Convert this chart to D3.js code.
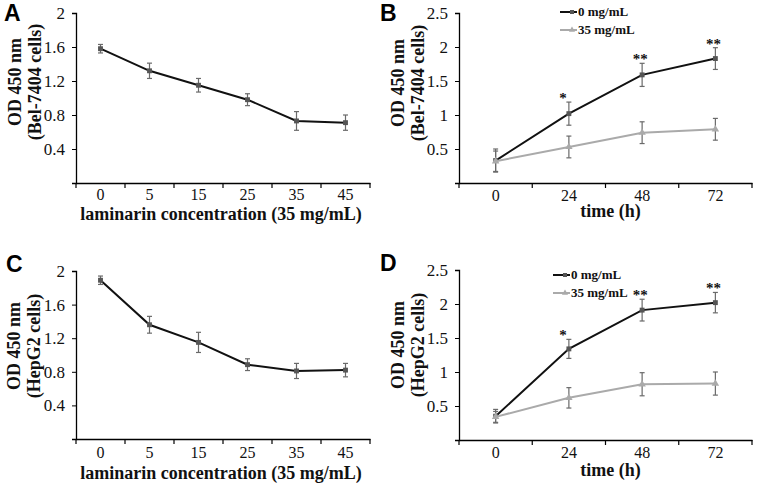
<!DOCTYPE html>
<html>
<head>
<meta charset="utf-8">
<script src="https://cdn.jsdelivr.net/npm/d3@7"></script>
<style>
  body { margin: 0; background: #fff; }
</style>
</head>
<body>
<div id="chart"></div>
<script>
// categories
var concCats = ["0", "5", "15", "25", "35", "45"];
var timeCats = ["0", "24", "48", "72"];

// A: Bel-7404, dose
var belConcMean = [1.58, 1.32, 1.15, 0.98, 0.73, 0.71];
var belConcErr = [0.05, 0.09, 0.08, 0.07, 0.11, 0.09];
// C: HepG2, dose
var hepConcMean = [1.89, 1.36, 1.15, 0.885, 0.81, 0.82];
var hepConcErr = [0.05, 0.10, 0.12, 0.07, 0.09, 0.08];

// B: Bel-7404, time
var belTimeCtrl = [0.33, 1.02, 1.59, 1.83];
var belTimeCtrlErr = [0.17, 0.17, 0.17, 0.16];
var belTimeLam = [0.32, 0.53, 0.74, 0.79];
var belTimeLamErr = [0.15, 0.16, 0.16, 0.16];
// D: HepG2, time
var hepTimeCtrl = [0.35, 1.34, 1.91, 2.02];
var hepTimeCtrlErr = [0.10, 0.14, 0.16, 0.15];
var hepTimeLam = [0.34, 0.62, 0.82, 0.83];
var hepTimeLamErr = [0.08, 0.15, 0.17, 0.17];

var stars = ["", "*", "**", "**"];
var legendNames = ["0 mg/mL", "35 mg/mL"];

var concTicks = [0, 0.4, 0.8, 1.2, 1.6, 2];
var timeTicks = [0, 0.5, 1, 1.5, 2, 2.5];

var serif = '"Liberation Serif", "Times New Roman", serif';
var sans = '"Liberation Sans", Arial, sans-serif';

var svg = d3.select("#chart")
    .append("svg")
    .attr("width", 760)
    .attr("height", 486);

svg.append("rect").attr("width", 760).attr("height", 486).attr("fill", "#fff");

function drawPanel(p) {
    var x = d3.scaleBand()
        .domain(p.cats)
        .range([p.left, p.right])
        .padding(0);

    var y = d3.scaleLinear()
        .domain([0, p.ticks[p.ticks.length - 1]])
        .range([p.bottom, p.top]);

    var g = svg.append("g");

    // y axis
    var yAxis = g.append("g")
        .attr("transform", "translate(" + p.left + ",0)")
        .call(d3.axisLeft(y).tickValues(p.ticks).tickSize(4).tickPadding(7)
            .tickFormat(function(d) { return d === 0 ? "" : d3.format("")(d); }))
        .attr("font-family", serif)
        .attr("font-size", 17);
    yAxis.select(".domain").attr("stroke", "#000").attr("stroke-width", 1.3);
    yAxis.selectAll("line").attr("stroke", "#000");
    yAxis.selectAll("text").attr("fill", "#111");

    // x axis (ticks between categories)
    var xAxis = g.append("g")
        .attr("transform", "translate(0," + p.bottom + ")")
        .call(d3.axisBottom(x).tickSize(0).tickPadding(p.xPad))
        .attr("font-family", serif)
        .attr("font-size", 16);
    xAxis.select(".domain").attr("stroke", "#000").attr("stroke-width", 1.3);
    xAxis.selectAll("text").attr("fill", "#111");

    var edges = p.cats.map(function(c) { return x(c); }).concat([x.range()[1]]);
    g.selectAll("xEdge")
        .data(edges)
        .enter()
        .append("line")
        .attr("x1", function(d) { return d; })
        .attr("x2", function(d) { return d; })
        .attr("y1", p.bottom)
        .attr("y2", p.bottom + 5)
        .attr("stroke", "#000")
        .attr("stroke-width", 1.2);

    var cx = function(i) { return x(p.cats[i]) + x.bandwidth() / 2; };

    var line = d3.line()
        .x(function(d, i) { return cx(i); })
        .y(function(d) { return y(d); });

    p.series.forEach(function(s) {
        // error bars
        var eb = g.append("g").attr("stroke", "#6a6a6a").attr("stroke-width", 1.2);
        s.mean.forEach(function(m, i) {
            var top = y(m + s.err[i]), bot = y(m - s.err[i]);
            eb.append("line").attr("x1", cx(i)).attr("x2", cx(i)).attr("y1", top).attr("y2", bot);
            eb.append("line").attr("x1", cx(i) - 2.5).attr("x2", cx(i) + 2.5).attr("y1", top).attr("y2", top);
            eb.append("line").attr("x1", cx(i) - 2.5).attr("x2", cx(i) + 2.5).attr("y1", bot).attr("y2", bot);
        });
    });

    p.series.forEach(function(s) {
        g.append("path")
            .datum(s.mean)
            .attr("fill", "none")
            .attr("stroke", s.color)
            .attr("stroke-width", 2)
            .attr("d", line);

        g.selectAll("pts")
            .data(s.mean)
            .enter()
            .append("path")
            .attr("transform", function(d, i) { return "translate(" + cx(i) + "," + y(d) + ")"; })
            .attr("d", d3.symbol().type(s.shape).size(24))
            .attr("fill", s.marker);
    });

    // significance stars
    if (p.stars) {
        var s0 = p.series[0];
        g.selectAll("stars")
            .data(p.stars)
            .enter()
            .append("text")
            .attr("x", function(d, i) { return cx(i) - (d.length === 1 ? 6 : 2); })
            .attr("y", function(d, i) { return y(s0.mean[i] + s0.err[i]) + 1; })
            .attr("text-anchor", "middle")
            .style("font-family", serif)
            .style("font-size", "15px")
            .style("font-weight", "bold")
            .attr("fill", "#111")
            .text(function(d) { return d; });
    }

    // legend
    if (p.legend) {
        p.series.forEach(function(s, i) {
            var ly = p.legend.y + i * 18;
            g.append("line")
                .attr("x1", p.legend.x).attr("x2", p.legend.x + 17)
                .attr("y1", ly - 4).attr("y2", ly - 4)
                .attr("stroke", s.color).attr("stroke-width", 2);
            g.append("path")
                .attr("transform", "translate(" + (p.legend.x + 12) + "," + (ly - 4) + ")")
                .attr("d", d3.symbol().type(s.shape).size(16))
                .attr("fill", s.marker);
            g.append("text")
                .attr("x", p.legend.x + 18)
                .attr("y", ly)
                .style("font-family", serif)
                .style("font-size", "13px")
                .style("font-weight", "bold")
                .attr("fill", "#111")
                .text(legendNames[i]);
        });
    }

    // axis titles
    g.append("text")
        .attr("x", (p.left + p.right) / 2 + p.xTitleDx)
        .attr("y", p.xTitleY)
        .attr("text-anchor", "middle")
        .style("font-family", serif)
        .style("font-size", "18px")
        .style("font-weight", "bold")
        .attr("fill", "#111")
        .text(p.xTitle);

    p.yTitle.forEach(function(t, i) {
        var bx = p.yTitleX[i];
        g.append("text")
            .attr("transform", "translate(" + bx + "," + p.yTitleCy + ") rotate(-90)")
            .attr("text-anchor", "middle")
            .style("font-family", serif)
            .style("font-size", "18px")
            .style("font-weight", "bold")
            .attr("fill", "#111")
            .text(t);
    });

    // panel letter
    g.append("text")
        .attr("x", p.letterX)
        .attr("y", p.letterY)
        .style("font-family", sans)
        .style("font-size", "23px")
        .style("font-weight", "bold")
        .attr("fill", "#000")
        .text(p.letter);
}

drawPanel({
    letter: "A", letterX: 4, letterY: 21,
    cats: concCats, ticks: concTicks,
    left: 76, right: 370, top: 13, bottom: 183, xPad: 6,
    series: [{ mean: belConcMean, err: belConcErr, color: "#111", marker: "#555", shape: d3.symbolSquare }],
    xTitle: "laminarin concentration (35 mg/mL)", xTitleY: 220, xTitleDx: -2,
    yTitle: ["OD 450 nm", "(Bel-7404 cells)"], yTitleX: [21, 41], yTitleCy: 82
});

drawPanel({
    letter: "B", letterX: 380, letterY: 21,
    cats: timeCats, ticks: timeTicks,
    left: 459, right: 752, top: 13, bottom: 183, xPad: 7,
    series: [
        { mean: belTimeCtrl, err: belTimeCtrlErr, color: "#111", marker: "#555", shape: d3.symbolSquare },
        { mean: belTimeLam, err: belTimeLamErr, color: "#aaa", marker: "#aaa", shape: d3.symbolTriangle }
    ],
    stars: stars,
    legend: { x: 560, y: 16 },
    xTitle: "time (h)", xTitleY: 217, xTitleDx: 5,
    yTitle: ["OD 450 nm", "(Bel-7404 cells)"], yTitleX: [404, 424], yTitleCy: 83
});

drawPanel({
    letter: "C", letterX: 6, letterY: 272,
    cats: concCats, ticks: concTicks,
    left: 76, right: 370, top: 271, bottom: 439, xPad: 8,
    series: [{ mean: hepConcMean, err: hepConcErr, color: "#111", marker: "#555", shape: d3.symbolSquare }],
    xTitle: "laminarin concentration (35 mg/mL)", xTitleY: 479, xTitleDx: -2,
    yTitle: ["OD 450 nm", "(HepG2 cells)"], yTitleX: [20, 40], yTitleCy: 346
});

drawPanel({
    letter: "D", letterX: 380, letterY: 271,
    cats: timeCats, ticks: timeTicks,
    left: 459, right: 752, top: 270, bottom: 440, xPad: 7,
    series: [
        { mean: hepTimeCtrl, err: hepTimeCtrlErr, color: "#111", marker: "#555", shape: d3.symbolSquare },
        { mean: hepTimeLam, err: hepTimeLamErr, color: "#aaa", marker: "#aaa", shape: d3.symbolTriangle }
    ],
    stars: stars,
    legend: { x: 553, y: 279 },
    xTitle: "time (h)", xTitleY: 476, xTitleDx: 5,
    yTitle: ["OD 450 nm", "(HepG2 cells)"], yTitleX: [404, 424], yTitleCy: 345
});
</script>
</body>
</html>
